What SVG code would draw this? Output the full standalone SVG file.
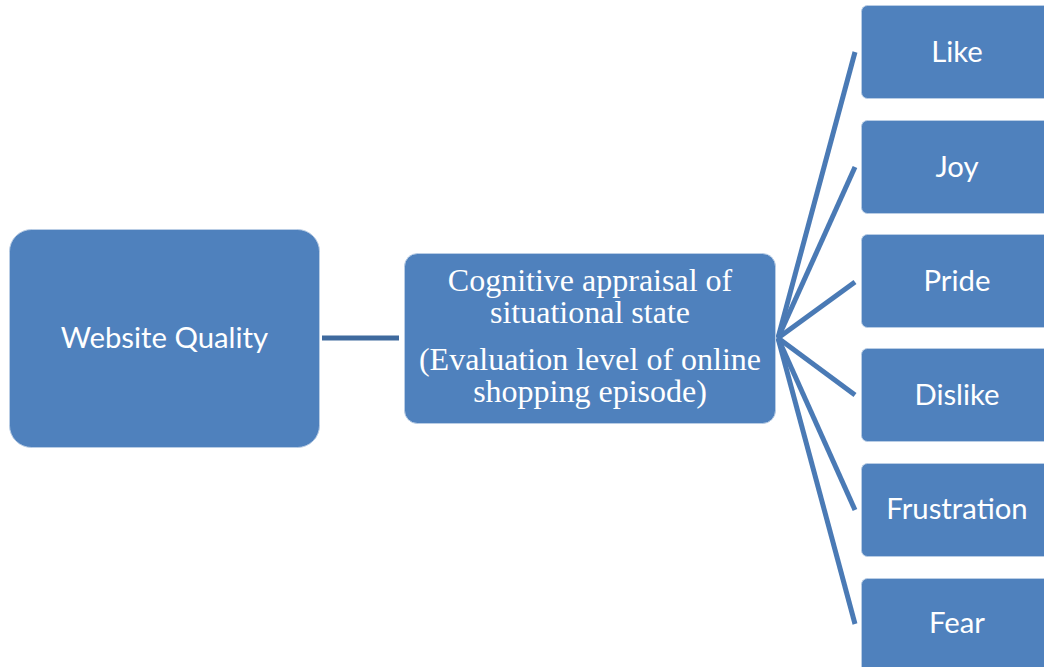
<svg xmlns="http://www.w3.org/2000/svg" width="1044" height="667" viewBox="0 0 1044 667">
<style>
.box{fill:#4F81BD;stroke:#B9CDE5;stroke-width:1}
.sans{font-family:Lato,"Open Sans",sans-serif;font-size:29.3px;fill:#fff;text-anchor:middle}
.serif{font-family:"Liberation Serif","Times New Roman",serif;font-size:32px;fill:#fff;text-anchor:middle}
.conn{stroke:#4A7AB5;stroke-width:5;fill:none;stroke-linecap:butt}
</style>
<rect width="1044" height="667" fill="#fff"/>
<g id="connectors">
<line x1="322" y1="338" x2="399" y2="338" stroke="#3F6A9E" stroke-width="5"/>
<line class="conn" x1="778" y1="338" x2="855" y2="52"/>
<line class="conn" x1="778" y1="338" x2="855" y2="167"/>
<line class="conn" x1="778" y1="338" x2="855" y2="282"/>
<line class="conn" x1="778" y1="338" x2="855" y2="395"/>
<line class="conn" x1="778" y1="338" x2="855" y2="510"/>
<line class="conn" x1="778" y1="338" x2="855" y2="624"/>
</g>
<g id="website-quality">
<rect class="box" x="9.5" y="229.5" width="310" height="218" rx="22"/>
<text class="sans" x="164.5" y="348">Website Quality</text>
</g>
<g id="cognitive-appraisal">
<rect class="box" x="404.5" y="253.5" width="371" height="170" rx="13"/>
<text class="serif" x="590" y="291">Cognitive appraisal of</text>
<text class="serif" x="590" y="323">situational state</text>
<text class="serif" x="590" y="370">(Evaluation level of online</text>
<text class="serif" x="590" y="402">shopping episode)</text>
</g>
<g id="like"><rect class="box" x="861.5" y="5.5" width="190" height="93" rx="6"/><text class="sans" x="957" y="62">Like</text></g>
<g id="joy"><rect class="box" x="861.5" y="120.5" width="190" height="93" rx="6"/><text class="sans" x="957" y="176.5">Joy</text></g>
<g id="pride"><rect class="box" x="861.5" y="234.5" width="190" height="93" rx="6"/><text class="sans" x="957" y="290.5">Pride</text></g>
<g id="dislike"><rect class="box" x="861.5" y="348.5" width="190" height="93" rx="6"/><text class="sans" x="957" y="404.5">Dislike</text></g>
<g id="frustration"><rect class="box" x="861.5" y="463.5" width="190" height="93" rx="6"/><text class="sans" x="957" y="519">Frustration</text></g>
<g id="fear"><rect class="box" x="861.5" y="578.5" width="190" height="100" rx="6"/><text class="sans" x="957" y="633">Fear</text></g>
</svg>
